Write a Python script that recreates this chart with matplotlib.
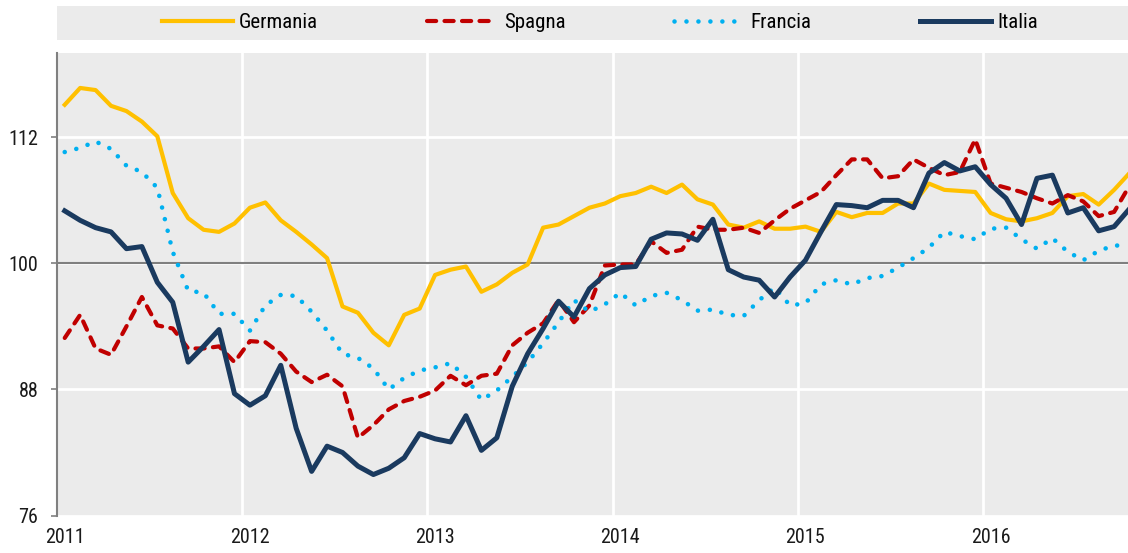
import numpy as np
import matplotlib
matplotlib.use("Agg")
import matplotlib.pyplot as plt
from matplotlib.patches import Rectangle
from matplotlib import font_manager as fm

# the original uses a narrow sans; take one if the machine has it
fam = ["Liberation Sans", "DejaVu Sans"]
stretch = "normal"
names = {f.name for f in fm.fontManager.ttflist}
for cand in ["Liberation Sans Narrow", "Arial Narrow", "Roboto Condensed", "Open Sans Condensed"]:
    if cand in names:
        fam = [cand, "DejaVu Sans"]
        break
else:
    for f in fm.fontManager.ttflist:
        if f.name in ("Roboto", "Open Sans", "DejaVu Sans", "Noto Sans") and \
                str(f.stretch) in ("condensed", "semi-condensed", "75", "87.5"):
            fam = [f.name, "DejaVu Sans"]
            stretch = f.stretch
            break
plt.rcParams["font.family"] = fam
plt.rcParams["font.stretch"] = stretch

# monthly index values, Jan 2011 .. Oct 2016
years = ["2011", "2012", "2013", "2014", "2015", "2016"]

germania = [115.1, 116.7, 116.5, 115.0, 114.5, 113.5, 112.1, 106.7, 104.3, 103.2, 103.0, 103.8,
            105.3, 105.8, 104.1, 103.0, 101.8, 100.5, 95.9, 95.3, 93.4, 92.2, 95.1, 95.7,
            98.9, 99.4, 99.7, 97.3, 98.0, 99.1, 99.9, 103.4, 103.7, 104.5, 105.3, 105.7,
            106.4, 106.7, 107.3, 106.7, 107.5, 106.1, 105.6, 103.7, 103.4, 104.0, 103.3, 103.3,
            103.5, 103.0, 104.9, 104.4, 104.8, 104.8, 105.7, 105.7, 107.6, 107.0, 106.9, 106.8,
            104.8, 104.2, 104.0, 104.3, 104.8, 106.4, 106.6, 105.6, 107.0, 108.6]

spagna = [92.9, 95.1, 91.9, 91.3, 94.0, 96.8, 94.1, 93.8, 91.9, 91.9, 92.1, 90.6,
          92.6, 92.5, 91.4, 89.7, 88.7, 89.4, 88.3, 83.4, 84.6, 86.1, 86.9, 87.3,
          87.9, 89.3, 88.4, 89.3, 89.5, 92.2, 93.4, 94.3, 96.5, 94.4, 96.0, 99.8,
          99.9, 99.9, 102.1, 101.0, 101.3, 103.5, 103.2, 103.2, 103.4, 102.9, 104.1, 105.2,
          106.0, 106.8, 108.4, 109.9, 109.9, 108.1, 108.3, 109.9, 109.1, 108.4, 108.7, 111.8,
          107.6, 107.2, 106.8, 106.2, 105.7, 106.5, 105.9, 104.5, 104.9, 107.4]

francia = [110.6, 111.0, 111.6, 110.9, 109.3, 108.7, 107.2, 101.1, 97.4, 97.2, 95.2, 95.2,
           93.6, 96.0, 97.0, 96.9, 95.4, 93.6, 91.4, 91.0, 90.0, 88.0, 89.1, 89.8,
           90.1, 90.5, 89.2, 87.0, 87.9, 89.2, 90.6, 92.4, 94.4, 96.5, 95.4, 96.1,
           97.2, 96.0, 96.9, 97.2, 96.5, 95.5, 95.6, 95.1, 95.0, 96.5, 97.7, 96.0,
           96.2, 98.0, 98.4, 98.0, 98.6, 98.8, 99.6, 100.5, 101.5, 103.0, 102.6, 102.3,
           103.3, 103.4, 102.3, 101.4, 102.4, 101.1, 100.3, 101.2, 101.7, 101.7]

italia = [105.0, 104.1, 103.4, 103.0, 101.4, 101.6, 98.2, 96.3, 90.6, 92.1, 93.7, 87.6,
          86.5, 87.4, 90.3, 84.3, 80.2, 82.6, 82.0, 80.7, 79.9, 80.5, 81.5, 83.8,
          83.3, 83.0, 85.5, 82.2, 83.4, 88.3, 91.4, 93.8, 96.4, 94.9, 97.6, 98.9,
          99.6, 99.7, 102.3, 102.9, 102.8, 102.2, 104.2, 99.4, 98.7, 98.4, 96.8, 98.7,
          100.3, 103.0, 105.6, 105.5, 105.3, 106.0, 106.0, 105.3, 108.6, 109.6, 108.8, 109.2,
          107.5, 106.2, 103.7, 108.1, 108.4, 104.8, 105.3, 103.1, 103.5, 105.2]

x = np.arange(len(germania)) + 0.5  # points sit mid-month

BG = "#EBEBEB"

fig = plt.figure(figsize=(11.28, 5.53), dpi=100)
ax = fig.add_axes([57 / 1128, 1 - 515.5 / 553, 1 - 57 / 1128, (515.5 - 53.3) / 553])
ax.set_facecolor(BG)

ax.plot(x, germania, color="#FFC000", lw=3.0, label="Germania", zorder=3)
ax.plot(x, spagna, color="#C00000", lw=3.0, dashes=(2.2, 2.0), dash_capstyle="round",
        label="Spagna", zorder=4)
ax.plot(x, francia, color="#00B0F0", lw=3.3, dashes=(0.01, 2.6), dash_capstyle="round",
        label="Francia", zorder=5)
ax.plot(x, italia, color="#1A3A5F", lw=3.6, label="Italia", zorder=6)

ax.axhline(100, color="#7F7F7F", lw=1.5, zorder=2)

ax.set_xlim(0, 69.4)
ax.set_ylim(76, 120)

ax.set_yticks([76, 88, 100, 112])
ax.set_xticks([12, 24, 36, 48, 60])
ax.set_xticklabels([])
ax.set_xticks([12 * k + 0.5 for k in range(len(years))], minor=True)
ax.set_xticklabels(years, minor=True)
ax.grid(True, which="major", color="white", lw=2, zorder=1)
ax.set_axisbelow(True)

ax.tick_params(axis="x", which="both", length=0, pad=9, labelsize=14.5, colors="#1a1a1a")
ax.tick_params(axis="y", length=4.5, width=1.2, color="#808080", pad=9, labelsize=14.5,
               labelcolor="#1a1a1a")

for s in ["top", "right", "bottom"]:
    ax.spines[s].set_visible(False)
ax.spines["left"].set_color("#808080")
ax.spines["left"].set_linewidth(1.5)

# legend band on top
fig.patches.append(Rectangle((57 / 1128, 1 - 40 / 553), 1 - 57 / 1128, 34 / 553,
                             transform=fig.transFigure, facecolor=BG, edgecolor="none"))
handles, labels = ax.get_legend_handles_labels()
fig.legend(handles, labels, loc="center", bbox_to_anchor=(600 / 1128, 1 - 23 / 553),
           ncol=4, frameon=False, fontsize=15, handlelength=3.4, handletextpad=0.3,
           columnspacing=5.2)

fig.savefig("out.png", dpi=100)
